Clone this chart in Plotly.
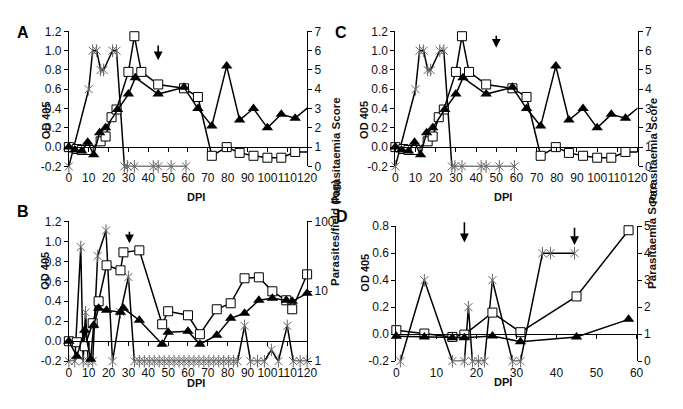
import plotly.graph_objects as go

# ---------------- data ----------------
# Panel A (panel C shows the same data)
A_sq_dpi = [0, 4, 6.5, 10, 16, 18.5, 21.5, 24, 30, 33, 36.5, 45, 58, 65, 72, 79.5, 86, 93, 100, 107, 114, 121]
A_sq_od = [0.0, -0.02, -0.03, -0.03, 0.06, 0.11, 0.31, 0.39, 0.78, 1.15, 0.78, 0.65, 0.61, 0.52, -0.09, 0.0, -0.06, -0.09, -0.11, -0.11, -0.05, -0.05]
A_tri_dpi = [0, 3, 6.5, 9.5, 12.5, 15.5, 18.5, 24.5, 30, 33.5, 45, 58, 65, 72, 79.5, 86, 93, 100, 107, 114, 121]
A_tri_od = [0.0, -0.03, -0.04, 0.05, -0.08, 0.15, 0.20, 0.39, 0.55, 0.72, 0.55, 0.62, 0.40, 0.22, 0.84, 0.28, 0.40, 0.20, 0.34, 0.30, 0.42]
A_par_dpi = [0, 10, 12, 14, 16, 17.5, 22, 24, 28, 29.5, 33, 42.5, 45, 51.5, 59]
A_par_score = [0, 4, 6, 6, 5, 5, 6, 6, 0, 0, 0, 0, 0, 0, 0]
A_arrow_dpi = [45]
A_arrow_od = [(1.07, 0.90)]

C_sq_dpi, C_sq_od = A_sq_dpi, A_sq_od
C_tri_dpi, C_tri_od = A_tri_dpi, A_tri_od
C_par_dpi, C_par_score = A_par_dpi, A_par_score
C_arrow_dpi = [50]
C_arrow_od = [(1.17, 1.03)]

# Panel B
B_sq_dpi = [0, 4, 8, 12, 15, 19, 26, 27.5, 35.5, 47, 50, 60, 66, 74.5, 81.5, 88.5, 95.7, 102.5, 109.5, 112.5, 120]
B_sq_od = [0.0, -0.01, -0.05, 0.18, 0.40, 0.76, 0.71, 0.89, 0.91, 0.17, 0.30, 0.26, 0.07, 0.32, 0.38, 0.63, 0.64, 0.50, 0.41, 0.32, 0.67]
B_tri_dpi = [0, 4, 8, 11, 12.5, 15, 19, 26, 27.5, 35.5, 47, 50, 60, 66, 74.5, 81.5, 88.5, 95.7, 102.5, 109.5, 112.5, 120]
B_tri_od = [0.0, -0.15, 0.11, -0.18, 0.16, 0.33, 0.31, 0.29, 0.33, 0.21, -0.03, 0.09, 0.10, -0.03, 0.06, 0.23, 0.28, 0.41, 0.43, 0.41, 0.40, 0.48]
B_par_dpi = [0, 3, 6, 7.2, 8.4, 9.7, 12, 14.5, 18.7, 22, 26, 30, 33, 35.5, 38, 40.5, 43, 45.5, 48, 50.5, 53,
             55.5, 58, 60.5, 63, 65.5, 68, 70.5, 73, 75.5, 78, 80.5, 83, 85, 88.5, 91.5, 95, 98.5, 102,
             105.5, 110, 113, 116.5, 120]
B_par_val = [1, 1, 43, 1, 5, 1, 1, 32, 74, 1, 5, 16, 1, 1, 1, 1, 1, 1, 1, 1, 1,
             1, 1, 1, 1, 1, 1, 1, 1, 1, 1, 1, 1, 1, 3.2, 1, 1, 1, 1.45,
             1, 3.2, 1, 1, 1]
B_arrow_dpi = [30.5]
B_arrow_od = [(1.11, 0.98)]

# Panel D
D_sq_dpi = [0, 7, 14, 17, 24, 31, 45, 58]
D_sq_od = [0.03, 0.005, -0.02, -0.003, 0.16, 0.015, 0.28, 0.77]
D_tri_dpi = [0, 7, 14, 17, 24, 31, 45, 58]
D_tri_od = [-0.015, -0.02, -0.026, -0.026, -0.013, -0.055, -0.02, 0.11]
D_par_dpi = [1, 7, 14, 17, 18, 19, 20.5, 22, 24, 29, 31, 36.5, 38.5, 44.5]
D_par_score = [0, 3, 0, 0, 2, 0, 0, 0, 3, 0, 0, 4, 4, 4]
D_arrow_dpi = [17, 44.5]
D_arrow_od = [(0.84, 0.68), (0.80, 0.66)]

# tick labels
OD_ticks_A = [-0.2, 0.0, 0.2, 0.4, 0.6, 0.8, 1.0, 1.2]
OD_ticks_D = [-0.2, 0.0, 0.2, 0.4, 0.6, 0.8]
score_ticks_A = [0, 1, 2, 3, 4, 5, 6, 7]
score_ticks_D = [0, 1, 2, 3, 4, 5]
B_log_ticks = [1, 10, 100]
DPI_ticks_120 = list(range(0, 121, 10))
DPI_ticks_60 = list(range(0, 61, 10))

# ---------------- layout helpers ----------------
PAGE_W, PAGE_H = 683, 409
BODY_MARGIN = 8                       # default page margin around the plot div
W, H = PAGE_W - 2 * BODY_MARGIN, PAGE_H - 2 * BODY_MARGIN
FONT = "Liberation Sans, Arial, sans-serif"
px = lambda x: (x - BODY_MARGIN) / W          # page pixel -> paper fraction
py = lambda y: 1 - (y - BODY_MARGIN) / H

panels = [
    dict(letter="A", box=(67, 310, 25, 165), xmax=120, xt=DPI_ticks_120,
         odr=(-0.2, 1.2), odt=OD_ticks_A, sq=(A_sq_dpi, A_sq_od), tri=(A_tri_dpi, A_tri_od),
         par=(A_par_dpi, A_par_score), parlog=False, sr=(0, 7), st=score_ticks_A,
         rtitle="Parasitaemia Score", rdx=29, ddy=32, arrows=(A_arrow_dpi, A_arrow_od)),
    dict(letter="C", box=(400, 647, 25, 165), xmax=120, xt=DPI_ticks_120,
         odr=(-0.2, 1.2), odt=OD_ticks_A, sq=(C_sq_dpi, C_sq_od), tri=(C_tri_dpi, C_tri_od),
         par=(C_par_dpi, C_par_score), parlog=False, sr=(0, 7), st=score_ticks_A,
         rtitle="Parasitaemia Score", rdx=24, ddy=32, arrows=(C_arrow_dpi, C_arrow_od)),
    dict(letter="B", box=(67, 310, 222, 367), xmax=120, xt=DPI_ticks_120,
         odr=(-0.2, 1.2), odt=OD_ticks_A, sq=(B_sq_dpi, B_sq_od), tri=(B_tri_dpi, B_tri_od),
         par=(B_par_dpi, B_par_val), parlog=True, sr=(0, 2), st=B_log_ticks,
         rtitle="Parasites/field (log)", rdx=29, ddy=31, arrows=(B_arrow_dpi, B_arrow_od)),
    dict(letter="D", box=(401, 646, 227, 367), xmax=60, xt=DPI_ticks_60,
         odr=(-0.2, 0.8), odt=OD_ticks_D, sq=(D_sq_dpi, D_sq_od), tri=(D_tri_dpi, D_tri_od),
         par=(D_par_dpi, D_par_score), parlog=False, sr=(0, 5), st=score_ticks_D,
         rtitle="Parasitaemia Score", rdx=24, ddy=30, arrows=(D_arrow_dpi, D_arrow_od)),
]

fig = go.Figure()
layout = dict(width=W, height=H, margin=dict(l=0, r=0, t=0, b=0),
              paper_bgcolor="white", plot_bgcolor="rgba(0,0,0,0)", showlegend=False,
              font=dict(family=FONT, size=12, color="#111"))
annotations = []

def fmt(v):
    return f"{v:.1f}".replace("\u2212", "-")

STAR = "#666"

for k, p in enumerate(panels):
    n1, n2 = 2 * k + 1, 2 * k + 2
    xa1, xa2 = f"xaxis{n1}", f"xaxis{n2}"
    ya1, ya2 = f"yaxis{n1}", f"yaxis{n2}"
    xr1, xr2 = f"x{n1}", f"x{n2}"
    yr1, yr2 = f"y{n1}", f"y{n2}"
    x0, x1, ytop, ybot = p["box"]
    odlo, odhi = p["odr"]
    zero_pos = py(ybot) + (0 - odlo) / (odhi - odlo) * (py(ytop) - py(ybot))

    layout[xa1] = dict(domain=[px(x0), px(x1)], range=[0, p["xmax"]], anchor=yr1,
                       showline=False, ticks="", tickvals=p["xt"], tickangle=0,
                       showgrid=False, zeroline=False, tickfont=dict(size=12),
                       ticklabelstandoff=3)
    layout[xa2] = dict(overlaying=xr1, anchor="free", position=zero_pos,
                       range=[0, p["xmax"]], showline=True, linecolor="#000", linewidth=1,
                       ticks="outside", ticklen=4, tickcolor="#000", tickvals=p["xt"],
                       showticklabels=False, showgrid=False, zeroline=False)
    yd = dict(domain=[py(ybot), py(ytop)], anchor=xr1, side="right",
              showline=True, linecolor="#000", linewidth=1, ticks="outside", ticklen=4,
              tickcolor="#000", showgrid=False, zeroline=False, tickfont=dict(size=12))
    if p["parlog"]:
        yd.update(type="log", range=list(p["sr"]), tickvals=p["st"],
                  ticktext=[str(v) for v in p["st"]])
    else:
        yd.update(range=list(p["sr"]), tickvals=p["st"])
    layout[ya1] = yd
    layout[ya2] = dict(overlaying=yr1, anchor=xr1, side="left", range=[odlo, odhi],
                       tickvals=p["odt"], ticktext=[fmt(v) for v in p["odt"]],
                       showline=True, linecolor="#000", linewidth=1, ticks="outside",
                       ticklen=4, tickcolor="#000", showgrid=False, zeroline=False,
                       tickfont=dict(size=12))

    # parasitaemia series (6-arm star markers = x + vertical bar)
    pdx, pdy = p["par"]
    fig.add_trace(go.Scatter(x=pdx, y=pdy, xaxis=xr1, yaxis=yr1, mode="lines+markers",
                             line=dict(color="#000", width=1.5),
                             marker=dict(symbol="x-thin-open", size=8, color=STAR,
                                         line=dict(color=STAR, width=1)),
                             cliponaxis=False, hoverinfo="skip"))
    fig.add_trace(go.Scatter(x=pdx, y=pdy, xaxis=xr1, yaxis=yr1, mode="markers",
                             marker=dict(symbol="line-ns-open", size=9, color=STAR,
                                         line=dict(color=STAR, width=1)),
                             cliponaxis=False, hoverinfo="skip"))
    fig.add_trace(go.Scatter(x=[None], y=[None], xaxis=xr2, yaxis=yr2, mode="markers",
                             hoverinfo="skip"))
    sx, sy = p["sq"]
    fig.add_trace(go.Scatter(x=sx, y=sy, xaxis=xr1, yaxis=yr2, mode="lines+markers",
                             line=dict(color="#000", width=1.5),
                             marker=dict(symbol="square", size=9, color="white",
                                         line=dict(color="#000", width=1),
                                         opacity=[1 if v <= p["xmax"] else 0 for v in sx]),
                             cliponaxis=False, hoverinfo="skip"))
    tx, ty = p["tri"]
    fig.add_trace(go.Scatter(x=tx, y=ty, xaxis=xr1, yaxis=yr2, mode="lines+markers",
                             line=dict(color="#000", width=1.5),
                             marker=dict(symbol="triangle-up", size=10, color="#000",
                                         line=dict(color="#000", width=0),
                                         opacity=[1 if v <= p["xmax"] else 0 for v in tx]),
                             cliponaxis=False, hoverinfo="skip"))
    for adpi, (atail, atip) in zip(*p["arrows"]):
        annotations.append(dict(x=adpi, y=atip, ax=adpi, ay=atail, xref=xr1, yref=yr2,
                                axref=xr1, ayref=yr2, text="", showarrow=True,
                                arrowhead=2, arrowsize=1.1, arrowwidth=1.6,
                                arrowcolor="#000"))
    xc = (x0 + x1) / 2
    yc = (ytop + ybot) / 2
    annotations.append(dict(x=px(x0 - 32), y=py(yc), xref="paper", yref="paper",
                            text="<b>OD 405</b>", textangle=-90, showarrow=False,
                            font=dict(size=11, color="#111")))
    annotations.append(dict(x=px(x1 + p["rdx"]), y=py(yc - 3), xref="paper", yref="paper",
                            text=f"<b>{p['rtitle']}</b>", textangle=-90, showarrow=False,
                            font=dict(size=11.5, color="#111")))
    annotations.append(dict(x=px(xc - 3), y=py(ybot + p["ddy"]), xref="paper", yref="paper",
                            text="<b>DPI</b>", showarrow=False,
                            font=dict(size=11, color="#111")))
    annotations.append(dict(x=px(x0 - 55), y=py(ytop - 10), xref="paper", yref="paper",
                            text=f"<b>{p['letter']}</b>", showarrow=False,
                            font=dict(size=16, color="#000")))

layout["annotations"] = annotations
fig.update_layout(**layout)
fig.write_html("out.html", config={"displayModeBar": False})
